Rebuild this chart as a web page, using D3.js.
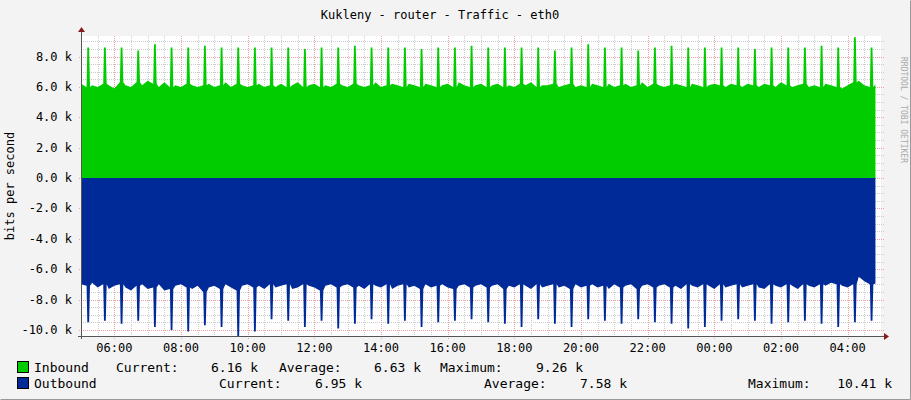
<!DOCTYPE html>
<html><head><meta charset="utf-8">
<script src="https://cdn.jsdelivr.net/npm/d3@7"></script>
<style>body{margin:0;background:#f3f3f3}</style>
</head><body>
<script>
// minutes since 05:00, baseline sampled every 10 min
var baseIn = [
 6.2,6.0,6.1,6.0,6.2,6.1,5.9,6.3,6.1,6.0,6.3,6.1,
 6.4,6.2,6.0,6.3,6.0,6.1,6.0,6.2,6.1,6.0,6.1,6.2,
 6.0,6.1,6.3,6.0,6.2,6.1,6.0,6.1,6.2,6.0,6.1,6.0,
 6.2,6.0,6.1,6.3,6.0,6.1,6.2,6.0,6.1,6.0,6.2,6.1,
 6.0,6.2,6.1,6.0,6.1,6.3,6.0,6.1,6.2,6.1,6.0,6.2,
 6.1,6.0,6.2,6.1,6.0,6.1,6.2,6.0,6.3,6.1,6.0,6.1,
 6.2,6.0,6.1,6.2,6.0,6.1,6.0,6.2,6.1,6.3,6.0,6.1,
 6.1,6.2,6.0,6.1,6.2,6.0,6.1,6.0,6.2,6.1,6.0,6.2,
 6.0,6.1,6.2,6.0,6.1,6.3,6.0,6.2,6.1,6.0,6.1,6.2,
 6.1,6.0,6.2,6.1,6.0,6.1,6.2,6.1,6.0,6.2,6.1,6.0,
 6.2,6.1,6.0,6.2,6.1,6.0,6.3,6.1,6.0,6.1,6.2,6.0,
 6.1,6.0,6.2,6.1,6.0,5.9,6.1,6.3,6.4,6.1,6.0,6.16
];
var baseOut = [
 -7.0,-7.1,-6.9,-7.2,-7.0,-7.3,-7.1,-7.0,-7.2,-7.4,-7.1,-7.0,
 -7.3,-7.2,-7.0,-7.4,-7.3,-7.1,-7.0,-7.2,-7.3,-7.1,-7.5,-7.2,
 -7.1,-7.3,-7.0,-7.2,-7.4,-7.1,-7.0,-7.2,-7.1,-7.3,-7.0,-7.2,
 -7.1,-7.0,-7.3,-7.2,-7.0,-7.1,-7.2,-7.4,-7.1,-7.0,-7.2,-7.1,
 -7.0,-7.2,-7.1,-7.3,-7.0,-7.1,-7.2,-7.0,-7.3,-7.1,-7.0,-7.2,
 -7.1,-7.3,-7.0,-7.2,-7.1,-7.0,-7.2,-7.3,-7.1,-7.0,-7.2,-7.1,
 -7.0,-7.2,-7.1,-7.0,-7.3,-7.1,-7.2,-7.0,-7.1,-7.3,-7.0,-7.2,
 -7.1,-7.0,-7.2,-7.1,-7.3,-7.0,-7.2,-7.1,-7.0,-7.2,-7.1,-7.3,
 -7.0,-7.2,-7.1,-7.0,-7.3,-7.1,-7.0,-7.2,-7.1,-7.0,-7.2,-7.1,
 -7.3,-7.0,-7.1,-7.2,-7.0,-7.1,-7.3,-7.0,-7.2,-7.1,-7.0,-7.2,
 -7.1,-7.0,-7.2,-7.3,-7.0,-7.1,-7.2,-7.0,-7.1,-7.3,-7.0,-7.1,
 -7.2,-7.0,-7.1,-6.9,-7.0,-7.1,-7.2,-7.0,-6.5,-6.8,-7.0,-6.95
];
var spikeTimes = [13,43,73,103,133,163,193,223,253,283,313,343,373,403,433,463,493,523,553,583,613,643,673,703,
  733,763,793,823,853,883,913,943,973,1003,1033,1063,1093,1123,1153,1183,1213,1243,1273,1303,1333,1363,1393,1423];
var spikeIn = [8.6,8.6,8.6,8.4,8.8,8.6,8.6,8.7,8.6,8.6,8.6,8.6,8.6,8.5,8.6,8.6,8.7,8.6,8.6,8.6,8.5,8.6,8.6,8.7,
  8.6,8.6,8.6,8.6,8.4,8.6,8.8,8.6,8.6,8.4,8.6,8.7,8.6,8.6,8.6,8.6,8.5,8.6,8.6,8.6,8.7,8.6,9.26,8.6];
var spikeOut = [-9.5,-9.4,-9.6,-9.4,-9.8,-10.0,-10.1,-9.7,-9.8,-10.41,-10.1,-9.3,-9.4,-9.8,-9.4,-9.9,-9.6,-9.3,-9.6,-9.4,-9.8,-9.5,-9.4,-9.3,
  -9.5,-9.6,-9.8,-9.3,-9.6,-9.8,-9.3,-9.4,-9.6,-9.3,-9.5,-9.6,-9.9,-9.8,-9.4,-9.3,-9.4,-9.6,-9.5,-9.4,-9.6,-9.8,-9.5,-9.4];
var yTicks = [-10,-8,-6,-4,-2,0,2,4,6,8];
var hourLabels = ["06:00","08:00","10:00","12:00","14:00","16:00","18:00","20:00","22:00","00:00","02:00","04:00"];

var W = 911, H = 400, x0 = 81, x1 = 881, yTop = 36, yBot = 336;
var svg = d3.select("body").append("svg").attr("width", W).attr("height", H)
  .style("font-family", "DejaVu Sans Mono").style("font-size", "11px");
svg.append("rect").attr("width", W).attr("height", H).attr("fill", "#f3f3f3");
svg.append("path").attr("d", "M0.5,399.5H910.5V0.5").attr("stroke", "#999").attr("fill", "none");

var x = d3.scaleLinear().domain([0, 1440]).range([x0, x1]);
var y = d3.scaleLinear().domain([-10.4, 9.35]).range([yBot, yTop]);

svg.append("rect").attr("x", x0).attr("y", yTop).attr("width", x1 - x0).attr("height", yBot - yTop).attr("fill", "#fff");

// grid (behind the areas)
var g = svg.append("g").attr("fill", "none");
d3.range(-10, 9.01, 0.5).forEach(function (v) {
  if (Math.abs(v % 2) < 1e-6) return;
  g.append("line").attr("x1", x0).attr("x2", x1 + 3).attr("y1", Math.round(y(v)) + 0.5).attr("y2", Math.round(y(v)) + 0.5)
    .attr("stroke", "#ccc").attr("stroke-dasharray", "1,1");
});
d3.range(30, 1440, 30).forEach(function (t) {
  if ((t - 60) % 120 === 0) return;
  g.append("line").attr("x1", Math.round(x(t)) + 0.5).attr("x2", Math.round(x(t)) + 0.5).attr("y1", yTop).attr("y2", yBot + 2)
    .attr("stroke", "#ccc").attr("stroke-dasharray", "1,1");
});
yTicks.forEach(function (v) {
  g.append("line").attr("x1", x0 - 2).attr("x2", x1 + 3).attr("y1", Math.round(y(v)) + 0.5).attr("y2", Math.round(y(v)) + 0.5)
    .attr("stroke", "#f0a0a0").attr("stroke-dasharray", "1,1");
  svg.append("text").attr("x", x0 - 9).attr("y", y(v) + 4).attr("text-anchor", "end").attr("fill", "#000")
    .attr("font-size", "12px").text(v.toFixed(1) + " k");
});
hourLabels.forEach(function (lab, i) {
  var t = 60 + i * 120;
  g.append("line").attr("x1", Math.round(x(t)) + 0.5).attr("x2", Math.round(x(t)) + 0.5).attr("y1", yTop).attr("y2", yBot + 3)
    .attr("stroke", "#f0a0a0").attr("stroke-dasharray", "1,1");
  svg.append("text").attr("x", x(t)).attr("y", yBot + 16).attr("text-anchor", "middle").attr("font-size", "12px").text(lab);
});

// build series: baseline + narrow spikes
function series(base, spikes) {
  var pts = base.map(function (v, i) { return [i * 10, v]; });
  spikeTimes.forEach(function (t, i) {
    var b = base[Math.min(base.length - 1, Math.round(t / 10))];
    pts.push([t - 3.2, b], [t - 1.6, spikes[i]], [t + 1.6, spikes[i]], [t + 3.2, b]);
  });
  pts.sort(function (a, b) { return a[0] - b[0]; });
  return pts.filter(function (p) { return p[0] <= 1435; });
}
var area = d3.area().x(function (d) { return x(d[0]); }).y0(y(0)).y1(function (d) { return y(d[1]); });
svg.append("path").attr("d", area(series(baseIn, spikeIn))).attr("fill", "#00cc00");
svg.append("path").attr("d", area(series(baseOut, spikeOut))).attr("fill", "#002a97");

// axes with arrows
svg.append("line").attr("x1", x0 - 3).attr("x2", x1 + 3).attr("y1", yBot + 0.5).attr("y2", yBot + 0.5).attr("stroke", "#555");
svg.append("line").attr("x1", x0 + 0.5).attr("x2", x0 + 0.5).attr("y1", yTop - 4).attr("y2", yBot + 3).attr("stroke", "#555");
svg.append("path").attr("d", "M" + (x1 + 3) + "," + (yBot - 3) + "l5,3.5l-5,3.5z").attr("fill", "#8b1a1a");
svg.append("path").attr("d", "M" + (x0 - 3) + "," + (yTop - 4) + "l3.5,-5l3.5,5z").attr("fill", "#8b1a1a");

svg.append("text").attr("x", 440).attr("y", 19).attr("text-anchor", "middle").attr("font-size", "12px").text("Kukleny - router - Traffic - eth0");
svg.append("text").attr("transform", "translate(14,186) rotate(-90)").attr("text-anchor", "middle").attr("font-size", "12px").text("bits per second");
svg.append("text").attr("transform", "translate(901,110) rotate(90)").attr("text-anchor", "middle")
  .attr("font-size", "8px").attr("fill", "#aaa").text("RRDTOOL / TOBI OETIKER");

// legend
var leg = [
  {color: "#00cc00", y: 372, items: [[34, "Inbound"], [116, "Current:"], [258, "6.16 k", 1], [279, "Average:"], [421, "6.63 k", 1], [440, "Maximum:"], [583, "9.26 k", 1]]},
  {color: "#002a97", y: 388, items: [[34, "Outbound"], [219, "Current:"], [362, "6.95 k", 1], [484, "Average:"], [627, "7.58 k", 1], [748, "Maximum:"], [892, "10.41 k", 1]]}
];
leg.forEach(function (r) {
  svg.append("rect").attr("x", 17.5).attr("y", r.y - 10.5).attr("width", 11).attr("height", 11).attr("fill", r.color).attr("stroke", "#000");
  r.items.forEach(function (it) {
    svg.append("text").attr("x", it[0]).attr("y", r.y).attr("text-anchor", it[2] ? "end" : "start").attr("font-size", "13px").text(it[1]);
  });
});
</script>
</body></html>
